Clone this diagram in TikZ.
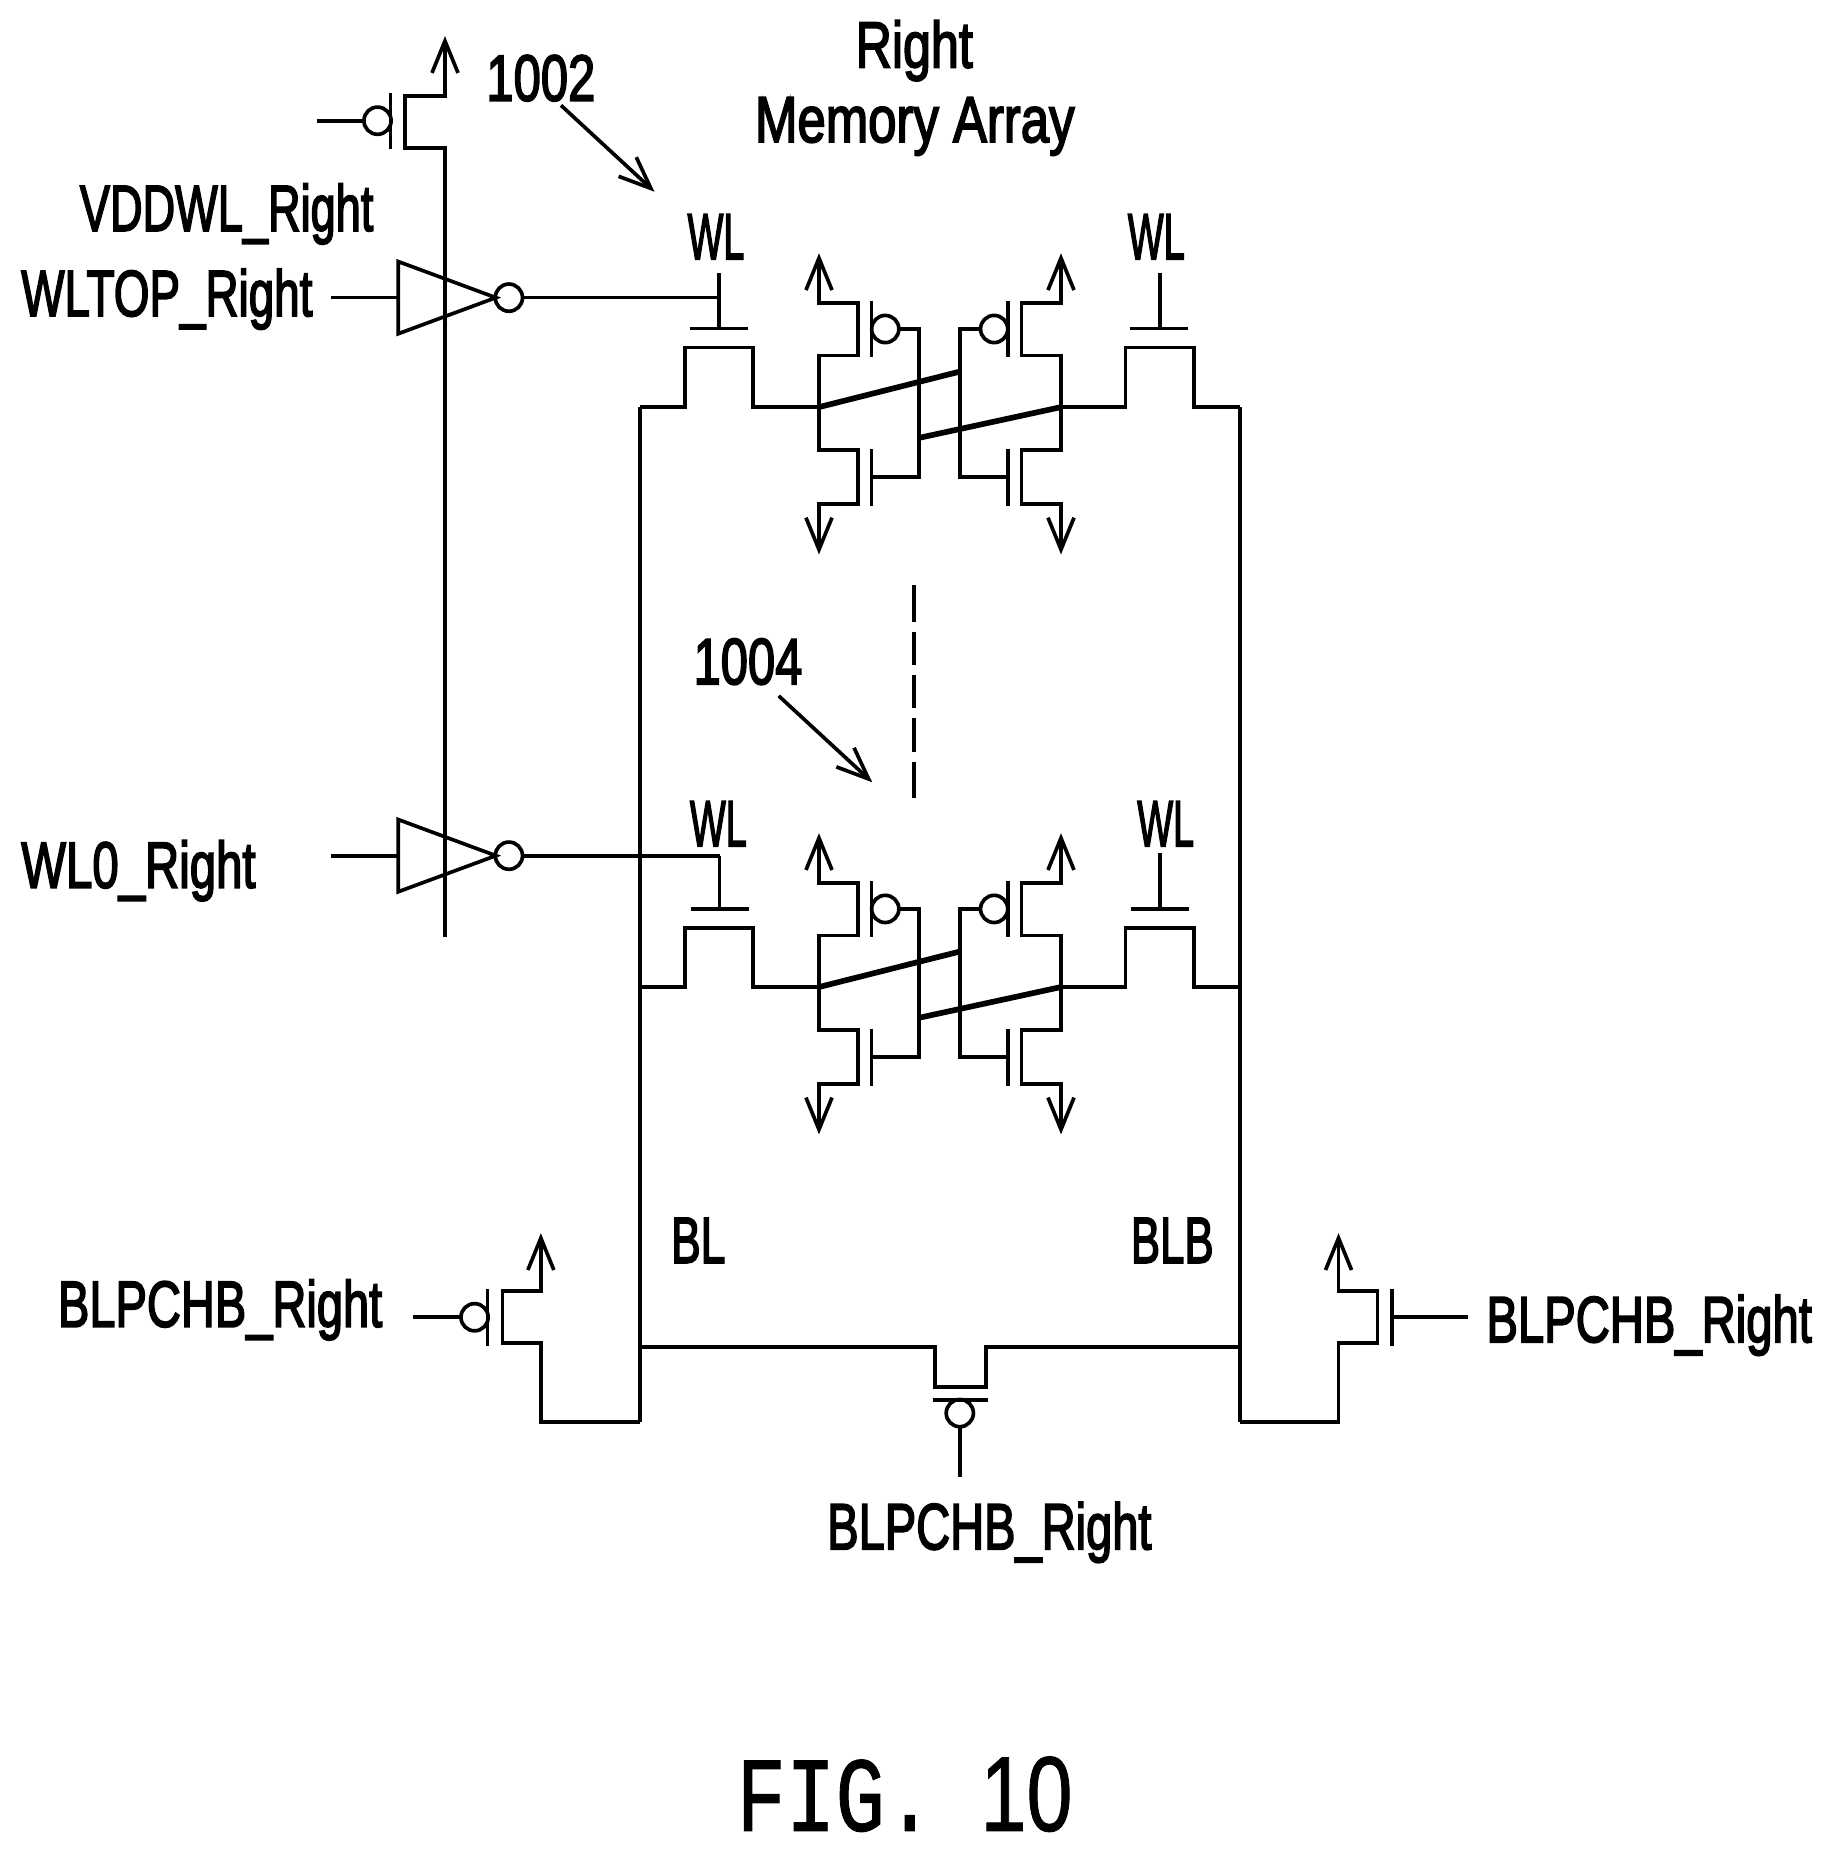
\documentclass[tikz,border=0pt]{standalone}
\usepackage{fontspec}
\usepackage{graphicx}
\usetikzlibrary{arrows.meta}
\newfontfamily\labfont[FakeBold=3]{Liberation Sans}
\newfontfamily\figfont[FakeBold=1]{Liberation Mono}
\newfontfamily\fignum[FakeBold=1]{Liberation Sans}
\tikzset{
  wire/.style={line width=3.1pt,line cap=butt,line join=miter},
  barb/.style={wire,-{Straight Barb[length=27pt,width=22pt,line width=3.1pt]}},
  xwire/.style={line width=4.8pt},
  bubble/.style={circle,draw,line width=3.1pt,minimum size=23pt,inner sep=0pt,outer sep=0pt},
  lab/.style={anchor=base west,inner sep=0pt,outer sep=0pt,font=\labfont\fontsize{55}{55}\selectfont},
}
% #1 name, #2 left, #3 baseline, #4 width, #5 text
\newcommand{\lbl}[5]{\node[lab] (#1) at (#2,#3) {\resizebox{#4pt}{\height}{#5}};}
% #1 prefix, #2 vertical shift
\newcommand{\memcell}[2]{%
\begin{scope}[shift={(0,#2)}]
  \coordinate (#1nl) at (692,344);
  \coordinate (#1nr) at (896.5,344);
  \coordinate (#1gl) at (776.5,370);
  \coordinate (#1gr) at (811,314);
  % left pair
  \draw[barb] (#1nl) -- (692,380.5) -- (725,380.5) -- (725,426) -- (692,426) -- (692,468.5);
  \draw[barb] (#1nl) -- (692,300.5) -- (725,300.5) -- (725,256) -- (692,256) -- (692,214);
  \draw[wire] (736.5,254.5) -- (736.5,302);
  \draw[wire] (736.5,379.5) -- (736.5,427.5);
  \node[bubble] (#1bl) at (748,278) {};
  \draw[wire] (#1bl.east) -- (776.5,278) -- (776.5,403) -- (736.5,403);
  % right pair
  \draw[barb] (#1nr) -- (896.5,380.5) -- (863,380.5) -- (863,426) -- (896.5,426) -- (896.5,468.5);
  \draw[barb] (#1nr) -- (896.5,300.5) -- (863,300.5) -- (863,256) -- (896.5,256) -- (896.5,214);
  \draw[wire] (851.5,254.5) -- (851.5,302);
  \draw[wire] (851.5,379.5) -- (851.5,427.5);
  \node[bubble] (#1br) at (840,278) {};
  \draw[wire] (#1br.west) -- (811,278) -- (811,403) -- (851.5,403);
  % cross coupling
  \draw[xwire] (#1nl) -- (#1gr);
  \draw[xwire] (#1gl) -- (#1nr);
\end{scope}}
\begin{document}
\begin{tikzpicture}[x=1pt,y=-1pt]
\useasboundingbox (0,0) rectangle (1548,1567.4);
\fill[white] (0,0) rectangle (1548,1567.4);
% labels
\lbl{tright}{723}{57}{99}{Right}
\lbl{tmem}{638}{120}{270}{Memory Array}
\lbl{t1002}{411}{85}{92}{1002}
\lbl{tvdd}{67.5}{195}{248}{VDDWL\_Right}
\lbl{twltop}{18}{267}{246}{WLTOP\_Right}
\lbl{twla}{581}{219}{48}{WL}
\lbl{twlb}{953}{219}{48}{WL}
\lbl{t1004}{586}{578}{92}{1004}
\lbl{twlc}{583}{715}{48}{WL}
\lbl{twld}{961}{715}{48}{WL}
\lbl{twl0}{18}{750}{198}{WL0\_Right}
\lbl{tbl}{567}{1067}{46}{BL}
\lbl{tblb}{955.5}{1067}{70}{BLB}
\lbl{tpl}{49}{1121}{274}{BLPCHB\_Right}
\lbl{tpr}{1256}{1134}{275}{BLPCHB\_Right}
\lbl{tpc}{699}{1309}{274}{BLPCHB\_Right}
\node[anchor=base west,inner sep=0pt,font=\fontsize{90}{90}\selectfont] (tfig) at (622,1547) {\resizebox{284pt}{\height}{\figfont FIG. \hspace{-4pt}\fignum 10}};
% header PMOS and supply rail
\coordinate (railbot) at (376,792);
\node[bubble] (bt) at (319,102) {};
\coordinate (bti) at (268,102);
\draw[wire] (bti) -- (bt.west);
\draw[wire] (330,79) -- (330,126);
\draw[barb] (railbot) -- (376,125) -- (342,125) -- (342,81) -- (376,81) -- (376,30.5);
% inverters
\foreach \nm/\yy in {top/251.5,low/723}{
  \coordinate (\nm in) at (280,\yy);
  \coordinate (\nm a) at (336.5,\yy);
  \draw[wire] (\nm in) -- (\nm a);
  \draw[wire,line join=miter] (336.5,\yy-30.5) -- (419,\yy) -- (336.5,\yy+30.5) -- cycle;
  \node[bubble] (\nm b) at (430,\yy) {};
}
\coordinate (wla) at (607.5,251.5);
\coordinate (wlc) at (608,723);
\draw[wire] (topb.east) -- (wla);
\draw[wire] (lowb.east) -- (wlc);
% memory cells
\memcell{a}{0}
\memcell{b}{490}
% pass gates of the first cell
\draw[wire] (607.5,231) -- (607.5,277);
\draw[wire] (583,277.5) -- (632,277.5);
\draw[wire] (980,231) -- (980,277);
\draw[wire] (955,277.5) -- (1004,277.5);
\coordinate (blt) at (541,344);
\coordinate (brt) at (1047.5,344);
\draw[wire] (blt) -- (579,344) -- (579,293.5) -- (636,293.5) -- (636,344) -- (anl);
\draw[wire] (anr) -- (951,344) -- (951,293.5) -- (1009,293.5) -- (1009,344) -- (brt);
% pass gates of the second cell
\draw[wire] (wlc) -- (608,768);
\draw[wire] (583.5,768) -- (633,768);
\draw[wire] (980,721) -- (980,768);
\draw[wire] (955.5,768) -- (1005,768);
\coordinate (blm) at (541,834);
\coordinate (brm) at (1047.5,834);
\draw[wire] (blm) -- (579,834) -- (579,784) -- (636,784) -- (636,834) -- (bnl);
\draw[wire] (bnr) -- (951,834) -- (951,784) -- (1009,784) -- (1009,834) -- (brm);
% bit lines with precharge
\coordinate (blb) at (541,1201.5);
\coordinate (brb) at (1047.5,1201.5);
\draw[wire,line cap=square] (blt) -- (blb);
\draw[wire,line cap=square] (brt) -- (brb);
\coordinate (eql) at (541,1138);
\coordinate (eqr) at (1047.5,1138);
\draw[wire] (eql) -- (790,1138) -- (790,1172) -- (833,1172) -- (833,1138) -- (eqr);
\draw[wire] (788,1183) -- (835,1183);
\node[bubble] (bc) at (811,1194) {};
\coordinate (bci) at (811,1248);
\draw[wire] (bc.south) -- (bci);
% left precharge PMOS
\draw[barb] (blb) -- (457,1201.5) -- (457,1135) -- (424.5,1135) -- (424.5,1091) -- (457,1091) -- (457,1042);
\draw[wire] (412,1089) -- (412,1137);
\node[bubble] (bpl) at (401,1113) {};
\coordinate (bpli) at (349,1113);
\draw[wire] (bpli) -- (bpl.west);
% right precharge
\draw[barb] (brb) -- (1131,1201.5) -- (1131,1135) -- (1164,1135) -- (1164,1091) -- (1131,1091) -- (1131,1042);
\draw[wire] (1176,1089) -- (1176,1137);
\coordinate (bpri) at (1240,1113);
\draw[wire] (1176,1113) -- (bpri);
% callouts
\coordinate (a1s) at (474,89);
\coordinate (a1e) at (553,162);
\draw[wire,-{Straight Barb[length=27pt,width=22pt,line width=3.1pt]}] (a1s) -- (a1e);
\coordinate (a2s) at (658,588);
\coordinate (a2e) at (737,661);
\draw[wire,-{Straight Barb[length=27pt,width=22pt,line width=3.1pt]}] (a2s) -- (a2e);
% omitted rows
\coordinate (d1) at (772,494.5);
\coordinate (d2) at (772,674.6);
\draw[wire,dash pattern=on 31pt off 8.5pt on 28pt off 8.5pt on 28pt off 8.5pt on 28pt off 8.5pt on 31pt off 10pt] (d1) -- (d2);
\end{tikzpicture}
\end{document}
